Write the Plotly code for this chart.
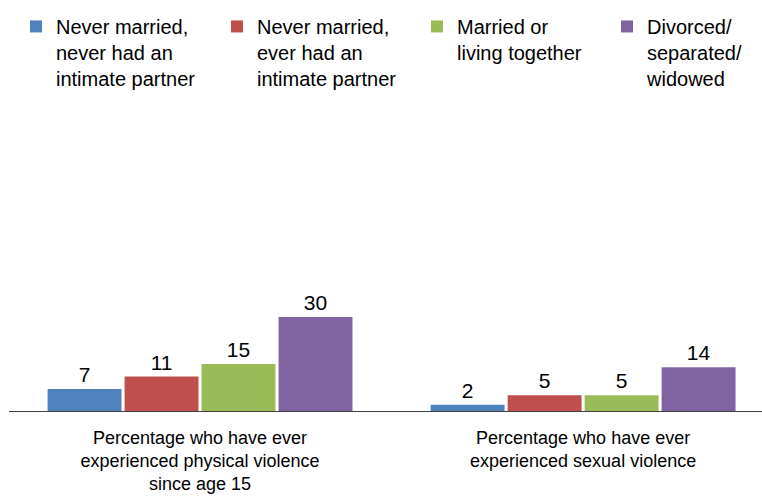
import plotly.graph_objects as go

categories = [
    "Percentage who have ever<br>experienced physical violence<br>since age 15",
    "Percentage who have ever<br>experienced sexual violence",
]
series_names = [
    "Never married,<br>never had an<br>intimate partner",
    "Never married,<br>ever had an<br>intimate partner",
    "Married or<br>living together",
    "Divorced/<br>separated/<br>widowed",
]
series_values = [
    [7, 2],
    [11, 5],
    [15, 5],
    [30, 14],
]
series_colors = ["#4F81BD", "#C0504D", "#9BBB59", "#8064A2"]

FONT = "Liberation Sans, Arial, sans-serif"
W, H = 762, 496
x_pos = list(range(len(categories)))

# one legend box per series so the four entries sit in a single row
legend_ids = ["legend", "legend2", "legend3", "legend4"]
legend_left_px = [16, 217, 417, 607]

fig = go.Figure()
for name, vals, color, lid in zip(series_names, series_values, series_colors, legend_ids):
    fig.add_trace(go.Bar(
        x=x_pos,
        y=vals,
        name=name,
        legend=lid,
        marker=dict(color=color, line=dict(width=0)),
        text=[str(v) for v in vals],
        textposition="outside",
        textfont=dict(family=FONT, size=21, color="#000000"),
        cliponaxis=False,
        hoverinfo="skip",
    ))

legend_style = dict(
    xref="container",
    yref="container",
    y=0.986,
    xanchor="left",
    yanchor="top",
    valign="top",
    font=dict(family=FONT, size=20, color="#000000"),
    itemclick=False,
    itemdoubleclick=False,
    bgcolor="rgba(0,0,0,0)",
)
legend_layout = {
    lid: dict(legend_style, x=px / W)
    for lid, px in zip(legend_ids, legend_left_px)
}

fig.update_layout(
    width=W,
    height=H,
    margin=dict(l=9, r=0, t=98, b=85, autoexpand=False),
    paper_bgcolor="white",
    plot_bgcolor="white",
    barmode="group",
    bargap=0.196,
    bargroupgap=0.04,
    font=dict(family=FONT, size=18, color="#000000"),
    showlegend=True,
    xaxis=dict(
        range=[-0.4987, 1.467],
        tickvals=x_pos,
        ticktext=categories,
        showline=True,
        linecolor="#404040",
        linewidth=1,
        ticks="outside",
        ticklen=10,
        tickcolor="rgba(0,0,0,0)",
        tickfont=dict(family=FONT, size=18, color="#000000"),
        showgrid=False,
        zeroline=False,
    ),
    yaxis=dict(
        range=[0, 100],
        visible=False,
        showgrid=False,
        zeroline=False,
    ),
    **legend_layout,
)

fig.write_html("out.html")
